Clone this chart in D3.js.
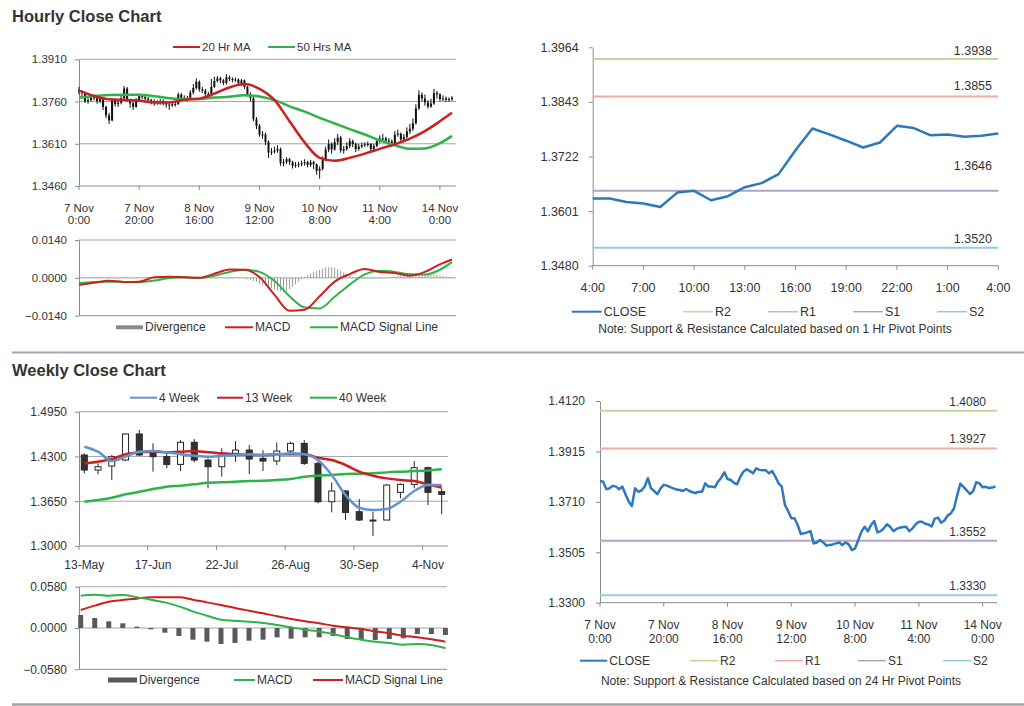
<!DOCTYPE html>
<html><head><meta charset="utf-8">
<script src="https://cdn.jsdelivr.net/npm/d3@7"></script>
<style>body{margin:0;background:#fff;}svg{display:block;font-family:"Liberation Sans",Arial,sans-serif;}</style>
</head><body><svg id="c" width="1024" height="706"></svg>
<script>
// ---------------- DATA ----------------
const hourlyFirstOpen = 1.3800;
const hourlyClose = [1.3795,1.3792,1.3761,1.3765,1.3775,1.3772,1.3761,1.3772,1.3741,1.3711,
 1.3693,1.3765,1.3751,1.3756,1.3772,1.3806,1.3765,1.3754,1.3741,1.3765,
 1.3779,1.3776,1.3770,1.3765,1.3760,1.3758,1.3754,1.3762,1.3754,1.3749,
 1.3746,1.3751,1.3751,1.3785,1.3772,1.3772,1.3769,1.3792,1.3808,1.3830,
 1.3803,1.3799,1.3787,1.3781,1.3812,1.3833,1.3842,1.3835,1.3826,1.3846,
 1.3840,1.3838,1.3838,1.3826,1.3835,1.3812,1.3785,1.3772,1.3697,1.3673,
 1.3643,1.3643,1.3616,1.3579,1.3582,1.3586,1.3591,1.3541,1.3545,1.3555,
 1.3545,1.3532,1.3535,1.3537,1.3541,1.3545,1.3535,1.3545,1.3537,1.3514,
 1.3521,1.3555,1.3589,1.3609,1.3590,1.3616,1.3632,1.3586,1.3591,1.3602,
 1.3619,1.3609,1.3591,1.3600,1.3605,1.3608,1.3609,1.3591,1.3602,1.3619,
 1.3629,1.3629,1.3621,1.3618,1.3610,1.3642,1.3646,1.3625,1.3634,1.3654,
 1.3663,1.3683,1.3736,1.3784,1.3771,1.3757,1.3742,1.3753,1.3790,1.3785,
 1.3769,1.3771,1.3766,1.3768,1.3773];
const hourlyHigh = [1.3812,1.3800,1.3795,1.3778,1.3782,1.3785,1.3776,1.3780,1.3775,1.3745,
 1.3720,1.3770,1.3772,1.3766,1.3780,1.3815,1.3812,1.3770,1.3760,1.3772,
 1.3788,1.3785,1.3782,1.3776,1.3770,1.3768,1.3765,1.3770,1.3768,1.3760,
 1.3757,1.3762,1.3760,1.3792,1.3790,1.3782,1.3780,1.3800,1.3822,1.3842,
 1.3835,1.3812,1.3805,1.3795,1.3840,1.3848,1.3850,1.3848,1.3840,1.3858,
 1.3852,1.3846,1.3845,1.3842,1.3840,1.3838,1.3815,1.3792,1.3778,1.3705,
 1.3680,1.3655,1.3650,1.3622,1.3595,1.3600,1.3605,1.3596,1.3556,1.3562,
 1.3560,1.3550,1.3545,1.3546,1.3550,1.3555,1.3550,1.3553,1.3550,1.3540,
 1.3530,1.3565,1.3600,1.3625,1.3615,1.3630,1.3645,1.3638,1.3602,1.3615,
 1.3630,1.3625,1.3614,1.3610,1.3614,1.3615,1.3618,1.3612,1.3610,1.3628,
 1.3640,1.3645,1.3635,1.3630,1.3625,1.3655,1.3660,1.3650,1.3645,1.3668,
 1.3680,1.3700,1.3750,1.3800,1.3792,1.3785,1.3765,1.3770,1.3805,1.3798,
 1.3790,1.3782,1.3778,1.3775,1.3780];
const hourlyLow = [1.3785,1.3770,1.3755,1.3752,1.3760,1.3764,1.3752,1.3755,1.3730,1.3700,
 1.3680,1.3690,1.3742,1.3740,1.3750,1.3768,1.3760,1.3738,1.3730,1.3738,
 1.3760,1.3768,1.3762,1.3758,1.3750,1.3745,1.3748,1.3748,1.3745,1.3738,
 1.3730,1.3740,1.3742,1.3748,1.3765,1.3762,1.3760,1.3765,1.3785,1.3802,
 1.3795,1.3790,1.3775,1.3772,1.3778,1.3808,1.3828,1.3825,1.3818,1.3820,
 1.3832,1.3828,1.3830,1.3818,1.3815,1.3805,1.3778,1.3760,1.3690,1.3662,
 1.3635,1.3628,1.3605,1.3560,1.3570,1.3575,1.3578,1.3532,1.3530,1.3538,
 1.3535,1.3522,1.3525,1.3526,1.3530,1.3532,1.3526,1.3528,1.3520,1.3500,
 1.3486,1.3515,1.3548,1.3580,1.3575,1.3585,1.3605,1.3578,1.3575,1.3585,
 1.3595,1.3598,1.3580,1.3585,1.3594,1.3598,1.3600,1.3580,1.3585,1.3598,
 1.3612,1.3620,1.3612,1.3608,1.3600,1.3605,1.3635,1.3615,1.3618,1.3628,
 1.3645,1.3655,1.3678,1.3730,1.3760,1.3745,1.3735,1.3738,1.3748,1.3770,
 1.3760,1.3762,1.3758,1.3760,1.3762];
const hourlyTickIndex = [0,20,40,60,80,100,120];
const hourlyTickDay  = ["7 Nov","7 Nov","8 Nov","9 Nov","10 Nov","11 Nov","14 Nov"];
const hourlyTickTime = ["0:00","20:00","16:00","12:00","8:00","4:00","0:00"];
const hourlyYTicks = [1.3460,1.3610,1.3760,1.3910];

const maIndex = [0,5,10,15,20,25,30,35,40,45,50,55,60,65,70,75,80,85,90,95,100,105,110,115,120,124];
const ma20Hr = [1.3799,1.3780,1.3768,1.3766,1.3763,1.3757,1.3757,1.3766,1.3770,1.3788,1.3810,1.3822,1.3805,1.3765,1.3690,1.3615,1.3560,1.3550,1.3560,1.3575,1.3592,1.3608,1.3628,1.3655,1.3690,1.3720];
const ma50Hr = [1.3774,1.3780,1.3783,1.3784,1.3784,1.3779,1.3772,1.3769,1.3769,1.3774,1.3777,1.3782,1.3778,1.3765,1.3743,1.3724,1.3702,1.3682,1.3662,1.3643,1.3622,1.3605,1.3592,1.3593,1.3612,1.3638];

const hourlyMacd   = [-0.0026,-0.0018,-0.0011,-0.0015,-0.0014,0.0002,0.0004,0.0002,0.0000,0.0015,0.0031,0.0030,0.0003,-0.0063,-0.0122,-0.0118,-0.0068,-0.0014,0.0014,0.0033,0.0022,0.0018,0.0008,0.0022,0.0050,0.0068];
const hourlySignal = [-0.0019,-0.0015,-0.0014,-0.0015,-0.0016,-0.0010,-0.0001,0.0002,-0.0001,0.0008,0.0022,0.0030,0.0022,-0.0012,-0.0068,-0.0110,-0.0113,-0.0070,-0.0025,0.0013,0.0026,0.0022,0.0013,0.0012,0.0030,0.0058];
const hourlyDivergence = [-0.0003,-0.0002,0.0002,0.0003,0.0002,0.0003,0.0004,0.0003,0.0002,-0.0002,
 -0.0003,-0.0002,-0.0003,-0.0002,0.0002,0.0003,0.0002,-0.0002,-0.0003,-0.0002,
 0.0002,0.0003,0.0003,0.0002,0.0003,0.0002,0.0002,0.0001,-0.0002,-0.0003,
 -0.0002,-0.0001,0.0002,0.0003,0.0002,0.0001,0.0002,0.0003,0.0004,0.0005,
 0.0004,0.0003,0.0002,0.0003,0.0004,0.0003,0.0002,0.0002,0.0001,-0.0001,
 -0.0002,-0.0001,0.0001,0.0002,0.0001,-0.0002,-0.0004,-0.0008,-0.0012,-0.0016,
 -0.0021,-0.0026,-0.0030,-0.0034,-0.0038,-0.0042,-0.0046,-0.0049,-0.0051,-0.0048,
 -0.0042,-0.0034,-0.0024,-0.0014,-0.0005,0.0004,0.0010,0.0016,0.0021,0.0026,
 0.0030,0.0034,0.0037,0.0039,0.0040,0.0038,0.0033,0.0027,0.0020,0.0013,
 0.0008,0.0004,0.0002,-0.0002,-0.0003,-0.0004,-0.0003,-0.0004,-0.0003,-0.0002,
 -0.0003,-0.0002,-0.0001,0.0002,0.0004,0.0006,0.0008,0.0009,0.0010,0.0011,
 0.0012,0.0012,0.0011,0.0012,0.0013,0.0012,0.0012,0.0011,0.0012,0.0010,
 0.0009,0.0008,0.0006,0.0004,0.0003];
const hourlyMacdTicks = [-0.0140,0.0000,0.0140];

const pivot1hTicks = ["4:00","7:00","10:00","13:00","16:00","19:00","22:00","1:00","4:00"];
const pivot1hYTicks = [1.3480,1.3601,1.3722,1.3843,1.3964];
const pivot1hLevels = [1.3938,1.3855,1.3646,1.3520]; // R2,R1,S1,S2
const pivot24hYTicks = [1.3300,1.3505,1.3710,1.3915,1.4120];
const pivot24hLevels = [1.4080,1.3927,1.3552,1.3330];
const pivotNames = ["R2","R1","S1","S2"];

const weekLabels = ["13-May","17-Jun","22-Jul","26-Aug","30-Sep","4-Nov"];
const weekLabelIndex = [0,5,10,15,20,25];
const weekOpen  = [1.4321,1.4103,1.4161,1.4248,1.4626,1.4345,1.4297,1.4185,1.4505,1.4248,1.4151,1.4345,1.4393,1.4272,1.4234,1.4379,1.4490,1.4200,1.3643,1.3798,1.3498,1.3377,1.3377,1.3779,1.3895,1.4137,1.3789];
const weekClose = [1.4103,1.4151,1.4297,1.4626,1.4321,1.4297,1.4185,1.4505,1.4248,1.4151,1.4321,1.4393,1.4263,1.4234,1.4379,1.4490,1.4200,1.3643,1.3798,1.3488,1.3377,1.3368,1.3885,1.3895,1.4137,1.3779,1.3750];
const weekHigh  = [1.4345,1.4200,1.4321,1.4635,1.4684,1.4490,1.4369,1.4539,1.4553,1.4272,1.4418,1.4524,1.4466,1.4393,1.4505,1.4514,1.4539,1.4224,1.3924,1.3813,1.3682,1.3498,1.3895,1.3909,1.4234,1.4151,1.3837];
const weekLow   = [1.4055,1.4040,1.3958,1.4234,1.4311,1.4079,1.4127,1.4088,1.4214,1.3837,1.4006,1.4224,1.4045,1.4088,1.4176,1.4321,1.4176,1.3619,1.3488,1.3377,1.3363,1.3145,1.3377,1.3692,1.3837,1.3595,1.3459];
const ma4Week  = [1.4442,1.4369,1.4234,1.4297,1.4369,1.4379,1.4360,1.4331,1.4311,1.4297,1.4311,1.4321,1.4331,1.4321,1.4331,1.4345,1.4331,1.4248,1.4030,1.3740,1.3556,1.3522,1.3537,1.3643,1.3798,1.3885,1.3885];
const ma13Week = [1.4200,1.4224,1.4263,1.4331,1.4360,1.4369,1.4360,1.4369,1.4379,1.4360,1.4345,1.4331,1.4321,1.4321,1.4331,1.4331,1.4331,1.4282,1.4248,1.4176,1.4079,1.4021,1.3982,1.3958,1.3943,1.3895,1.3846];
const ma40Week = [1.3643,1.3667,1.3701,1.3750,1.3788,1.3827,1.3861,1.3876,1.3895,1.3919,1.3924,1.3934,1.3943,1.3948,1.3958,1.3972,1.4006,1.4021,1.4030,1.4045,1.4050,1.4055,1.4069,1.4079,1.4088,1.4098,1.4113];
const weekYTicks = [1.3000,1.3650,1.4300,1.4950];
const weekDivergence = [0.0183,0.0140,0.0094,0.0066,0.0019,-0.0019,-0.0066,-0.0112,-0.0164,-0.0192,-0.0225,-0.0210,-0.0178,-0.0164,-0.0131,-0.0150,-0.0131,-0.0131,-0.0112,-0.0154,-0.0168,-0.0168,-0.0154,-0.0145,-0.0084,-0.0084,-0.0098];
const weekMacd   = [0.0454,0.0468,0.0454,0.0463,0.0431,0.0398,0.0360,0.0304,0.0234,0.0173,0.0117,0.0103,0.0089,0.0070,0.0042,0.0009,-0.0023,-0.0051,-0.0084,-0.0131,-0.0164,-0.0192,-0.0210,-0.0234,-0.0225,-0.0239,-0.0285];
const weekSignal = [0.0253,0.0314,0.0370,0.0393,0.0412,0.0431,0.0431,0.0431,0.0398,0.0360,0.0323,0.0281,0.0243,0.0206,0.0164,0.0126,0.0094,0.0066,0.0033,0.0009,-0.0014,-0.0047,-0.0075,-0.0108,-0.0131,-0.0159,-0.0192];
const weekMacdTicks = [-0.0580,0.0000,0.0580];

// ---------------- STYLE ----------------
const TXT = "#333", AX = "#8c8c8c", GRID = "#a6a6a6";
const RED = "#cc1f1f", GREEN = "#2db34a", BLUE = "#2e78bd", BLUE2 = "#5f93d3";
const PIV = ["#c3d69b", "#f0aaaa", "#b3a2c7", "#93cddd"];
const svg = d3.select("#c");
const f4 = d3.format(".4f");

function text(x, y, s, size, anchor, weight) {
  return svg.append("text").attr("x", x).attr("y", y).attr("font-size", size)
    .attr("text-anchor", anchor || "start").attr("font-weight", weight || "normal")
    .attr("fill", TXT).text(s);
}
function line(x1, y1, x2, y2, color, w) {
  return svg.append("line").attr("x1", x1).attr("y1", y1).attr("x2", x2).attr("y2", y2)
    .attr("stroke", color).attr("stroke-width", w || 1);
}
function leftAxis(scale, ticks, x, size, pad) {
  const g = svg.append("g").attr("transform", `translate(${x},0)`)
    .call(d3.axisLeft(scale).tickValues(ticks).tickFormat(f4).tickSize(4).tickSizeOuter(0).tickPadding(pad));
  g.select(".domain").attr("stroke", AX);
  g.selectAll(".tick line").attr("stroke", AX);
  g.selectAll(".tick text").attr("fill", TXT).attr("font-size", size)
    .attr("font-family", "'Liberation Sans',Arial,sans-serif");
}
function tickDown(x, y) { line(x, y, x, y + 4, AX, 1); }
function legendLine(x1, x2, y, color, w, label, size) {
  line(x1, y, x2, y, color, w);
  text(x2 + 2, y + 4, label, size);
}
function path(data, xs, ys, color, w, curve) {
  svg.append("path").datum(data).attr("fill", "none").attr("stroke", color).attr("stroke-width", w)
    .attr("stroke-linejoin", "round")
    .attr("d", d3.line().x(d => xs(d[0])).y(d => ys(d[1])).curve(curve || d3.curveLinear));
}

// ---------------- TITLES & SEPARATORS ----------------
text(12, 22, "Hourly Close Chart", 16.5, "start", "bold");
text(12, 375.5, "Weekly Close Chart", 16.5, "start", "bold");
line(12, 352.5, 1024, 352.5, "#a6a6a6", 2);
line(12, 704.5, 1024, 704.5, "#a6a6a6", 2.5);

// ---------------- HOURLY CANDLES ----------------
{
  const xH = d3.scaleLinear().domain([0, 125]).range([79, 455]);
  const yH = d3.scaleLinear().domain([1.3460, 1.3910]).range([186, 59.3]);
  hourlyYTicks.slice(1).forEach(v => line(79, yH(v), 456, yH(v), GRID, 1));
  line(79, yH(1.3460), 456, yH(1.3460), AX, 1);
  leftAxis(yH, hourlyYTicks, 79, 11.5, 8);
  hourlyTickIndex.forEach((t, k) => {
    tickDown(xH(t), yH(1.3460));
    text(xH(t), 211.5, hourlyTickDay[k], 11.5, "middle");
    text(xH(t), 224, hourlyTickTime[k], 11.5, "middle");
  });
  const g = svg.append("g");
  hourlyClose.forEach((c, i) => {
    const o = i === 0 ? hourlyFirstOpen : hourlyClose[i - 1];
    const x = xH(i);
    g.append("line").attr("x1", x).attr("x2", x).attr("y1", yH(hourlyHigh[i])).attr("y2", yH(hourlyLow[i]))
      .attr("stroke", "#111").attr("stroke-width", 1);
    const top = yH(Math.max(o, c)), bot = yH(Math.min(o, c));
    g.append("rect").attr("x", x - 1).attr("width", 2).attr("y", top).attr("height", Math.max(1, bot - top)).attr("fill", "#111");
  });
  path(maIndex.map((t, k) => [t, ma50Hr[k]]), xH, yH, GREEN, 2.5, d3.curveMonotoneX);
  path(maIndex.map((t, k) => [t, ma20Hr[k]]), xH, yH, RED, 2.5, d3.curveMonotoneX);
  legendLine(173, 200, 47, RED, 2, "20 Hr MA", 11.5);
  legendLine(268, 295, 47, GREEN, 2, "50 Hrs MA", 11.5);
}

// ---------------- HOURLY MACD ----------------
{
  const xM = d3.scaleLinear().domain([0, 125]).range([79, 455]);
  const yM = d3.scaleLinear().domain([-0.014, 0.014]).range([315.7, 240]);
  line(79, yM(0.014), 456, yM(0.014), GRID, 1);
  line(79, yM(0), 456, yM(0), GRID, 1);
  line(79, yM(-0.014), 456, yM(-0.014), AX, 1);
  leftAxis(yM, hourlyMacdTicks, 79, 11.5, 8);
  svg.append("g").selectAll("rect").data(hourlyDivergence).join("rect")
    .attr("x", (d, i) => xM(i) - 0.5).attr("width", 1)
    .attr("y", d => Math.min(yM(d), yM(0))).attr("height", d => Math.max(0.6, Math.abs(yM(d) - yM(0))))
    .attr("fill", "#9a9a9a");
  path(maIndex.map((t, k) => [t, hourlySignal[k]]), xM, yM, GREEN, 2, d3.curveMonotoneX);
  path(maIndex.map((t, k) => [t, hourlyMacd[k]]), xM, yM, RED, 2, d3.curveMonotoneX);
  svg.append("rect").attr("x", 116).attr("y", 325.3).attr("width", 27).attr("height", 4).attr("fill", "#8a8a8a");
  text(145, 331.3, "Divergence", 12);
  legendLine(225, 253, 327.3, RED, 2, "MACD", 12);
  legendLine(310, 338, 327.3, GREEN, 2, "MACD Signal Line", 12);
}

// ---------------- 1 HR PIVOT CHART ----------------
{
  const last = hourlyClose.slice(hourlyClose.length - 25);
  const xR = d3.scaleLinear().domain([0, 24]).range([592.7, 998.3]);
  const yR = d3.scaleLinear().domain([1.3480, 1.3964]).range([265.7, 47.3]);
  leftAxis(yR, pivot1hYTicks, 592.7, 12.5, 10);
  line(592.7, 265.7, 998.3, 265.7, AX, 1);
  pivot1hTicks.forEach((s, k) => {
    tickDown(xR(k * 3), 265.7);
    text(xR(k * 3), 292, s, 12.5, "middle");
  });
  const labOff = [4.5, 6.5, 20.5, 5];
  pivot1hLevels.forEach((v, k) => {
    line(592.7, yR(v), 998.3, yR(v), PIV[k], 2);
    text(992, yR(v) - labOff[k], f4(v), 12.5, "end");
  });
  path(last.map((v, i) => [i, v]), xR, yR, BLUE, 2.5);
  legendLine(571.7, 601.7, 311.7, BLUE, 2, "CLOSE", 12.5);
  const lx = [683, 768, 853, 937];
  pivotNames.forEach((n, k) => legendLine(lx[k], lx[k] + 30, 311.7, PIV[k], 1.5, n, 12.5));
  text(775, 333, "Note: Support & Resistance Calculated based on 1 Hr Pivot Points", 12, "middle");
}

// ---------------- WEEKLY CANDLES ----------------
{
  const xW = d3.scaleLinear().domain([0, 26]).range([84.3, 441.7]);
  const yW = d3.scaleLinear().domain([1.3000, 1.4950]).range([546, 411.7]);
  weekYTicks.slice(1).forEach(v => line(79, yW(v), 448, yW(v), GRID, 1));
  line(79, yW(1.3), 448, yW(1.3), AX, 1);
  leftAxis(yW, weekYTicks, 79, 12, 8);
  weekLabelIndex.forEach((t, k) => {
    tickDown(xW(t) - 5.3, 546);
    text(xW(t), 569, weekLabels[k], 12, "middle");
  });
  const g = svg.append("g");
  weekClose.forEach((c, i) => {
    const o = weekOpen[i], x = xW(i);
    g.append("line").attr("x1", x).attr("x2", x).attr("y1", yW(weekHigh[i])).attr("y2", yW(weekLow[i]))
      .attr("stroke", "#262626").attr("stroke-width", 1);
    const top = yW(Math.max(o, c)), bot = yW(Math.min(o, c));
    g.append("rect").attr("x", x - 3).attr("width", 6).attr("y", top).attr("height", Math.max(1, bot - top))
      .attr("fill", c < o ? "#333" : "#fff").attr("stroke", "#262626").attr("stroke-width", 1);
  });
  path(ma40Week.map((v, i) => [i, v]), xW, yW, GREEN, 2.5, d3.curveMonotoneX);
  path(ma13Week.map((v, i) => [i, v]), xW, yW, RED, 2.5, d3.curveMonotoneX);
  path(ma4Week.map((v, i) => [i, v]), xW, yW, BLUE2, 2.5, d3.curveMonotoneX);
  legendLine(130, 157, 397.7, BLUE2, 2, "4 Week", 12);
  legendLine(217, 243, 397.7, RED, 2, "13 Week", 12);
  legendLine(310, 337, 397.7, GREEN, 2, "40 Week", 12);
}

// ---------------- WEEKLY MACD ----------------
{
  const xWM = d3.scaleLinear().domain([0, 26]).range([80.7, 445.4]);
  const yWM = d3.scaleLinear().domain([-0.058, 0.058]).range([669.3, 586.7]);
  line(79, yWM(0.058), 447, yWM(0.058), GRID, 1);
  line(79, yWM(0), 447, yWM(0), GRID, 1);
  line(79, yWM(-0.058), 447, yWM(-0.058), AX, 1);
  leftAxis(yWM, weekMacdTicks, 79, 12, 8);
  svg.append("g").selectAll("rect").data(weekDivergence).join("rect")
    .attr("x", (d, i) => xWM(i) - 2.5).attr("width", 5)
    .attr("y", d => Math.min(yWM(d), yWM(0))).attr("height", d => Math.abs(yWM(d) - yWM(0)))
    .attr("fill", "#595959");
  path(weekSignal.map((v, i) => [i, v]), xWM, yWM, RED, 2, d3.curveMonotoneX);
  path(weekMacd.map((v, i) => [i, v]), xWM, yWM, GREEN, 2, d3.curveMonotoneX);
  svg.append("rect").attr("x", 108).attr("y", 677.5).attr("width", 29).attr("height", 5).attr("fill", "#595959");
  text(139, 684, "Divergence", 12);
  legendLine(234, 255, 680, GREEN, 2, "MACD", 12);
  legendLine(313, 343, 680, RED, 2, "MACD Signal Line", 12);
}

// ---------------- 24 HR PIVOT CHART ----------------
{
  const xB = d3.scaleLinear().domain([0, 124.5]).range([600, 997]);
  const yB = d3.scaleLinear().domain([1.3300, 1.4120]).range([602.7, 401]);
  leftAxis(yB, pivot24hYTicks, 600, 12, 11);
  line(600, 602.7, 997, 602.7, AX, 1);
  hourlyTickIndex.forEach((t, k) => {
    tickDown(xB(t), 602.7);
    text(xB(t), 629, hourlyTickDay[k], 12, "middle");
    text(xB(t), 643, hourlyTickTime[k], 12, "middle");
  });
  pivot24hLevels.forEach((v, k) => {
    line(600, yB(v), 997, yB(v), PIV[k], 2);
    text(986, yB(v) - 5, f4(v), 12, "end");
  });
  path(hourlyClose.map((v, i) => [i, v]), xB, yB, BLUE, 2.5);
  legendLine(580, 607.3, 660.7, BLUE, 2, "CLOSE", 12);
  const lx = [690, 775, 858, 943];
  pivotNames.forEach((n, k) => legendLine(lx[k], lx[k] + 28, 660.7, PIV[k], 1.5, n, 12));
  text(781, 685, "Note: Support & Resistance Calculated based on 24 Hr Pivot Points", 12, "middle");
}
</script></body></html>
